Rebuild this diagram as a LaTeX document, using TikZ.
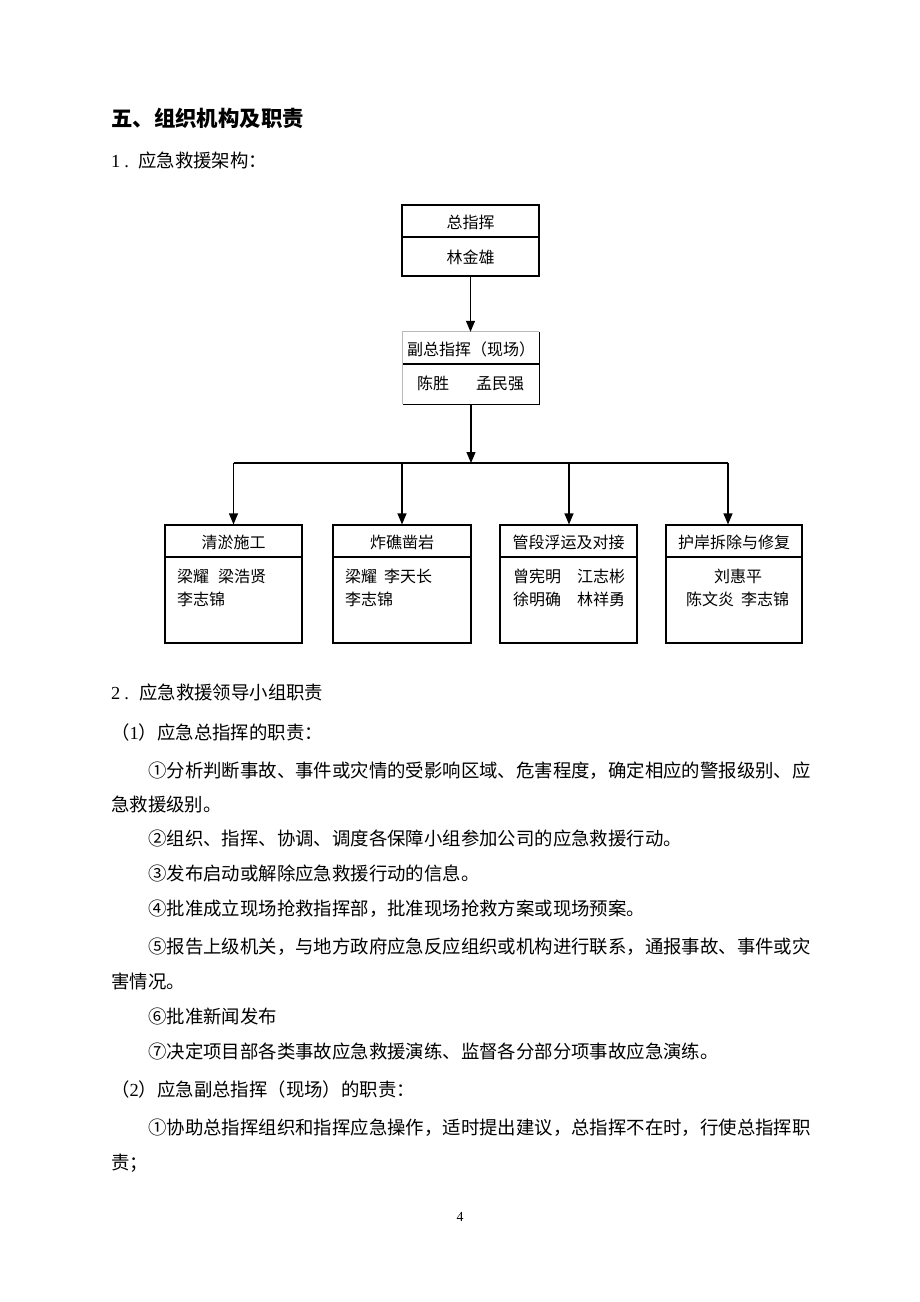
\documentclass[tikz,border=0pt]{standalone}
\usepackage{fontspec}
\setmainfont{Liberation Serif}
\newfontfamily\cjk{Noto Sans CJK SC}
\usetikzlibrary{arrows.meta}
\ExplSyntaxOn
\NewDocumentCommand\spreadline{mm}{\hbox~to~#1{\tl_map_inline:nn{#2}{##1\hfil}\unskip}}
\ExplSyntaxOff
\begin{document}
\begin{tikzpicture}[x=1pt,y=-1pt,
  body/.style={anchor=west, inner sep=0pt, font=\cjk\fontsize{18.4pt}{22pt}\selectfont, text height=16.2pt, text depth=2.2pt},
  num/.style={anchor=west, inner sep=0pt, font=\rmfamily\fontsize{18.4pt}{22pt}\selectfont, text height=16.2pt, text depth=2.2pt},
  htitle/.style={anchor=west, inner sep=0pt, font=\cjk\bfseries\fontsize{21.4pt}{25pt}\selectfont, text height=18.8pt, text depth=2.6pt},
  boxtxt/.style={inner sep=0pt, font=\cjk\fontsize{16pt}{19pt}\selectfont, text height=14.1pt, text depth=1.9pt},
  namew/.style={boxtxt, anchor=west},
  box/.style={draw, line width=1.2pt, inner sep=0pt},
  ln/.style={line width=1.2pt},
  arr/.style={line width=1.2pt, -{Triangle[width=9pt,length=11pt]}}
]
\useasboundingbox (0,0) rectangle (920,1302);
\fill[white] (0,0) rectangle (920,1302);

% headings
\node[htitle] (h5) at (111,118) {五、组织机构及职责};
\node[num] (n1) at (111,160) {1\kern4pt.};
\node[body] (s1) at (138,160) {应急救援架构：};

% box 1
\node[box, minimum width=137pt, minimum height=71pt] (zong) at (470.5,240.5) {};
\draw[ln] (zong.west |- 0,237) -- (zong.east |- 0,237);
\node[boxtxt] (zongT) at (470.5,222.5) {总指挥};
\node[boxtxt] (zongN) at (470.5,257) {林金雄};

% box 2
\node[inner sep=0pt, minimum width=136pt, minimum height=72pt] (fu) at (471,368) {};
\draw[ln, gray!55] (fu.south west) |- (fu.north east);
\draw[ln] (fu.north east) |- (fu.south west);
\draw[ln] (fu.west |- 0,364) -- (fu.east |- 0,364);
\node[boxtxt] (fuT) at (471,349) {副总指挥（现场）};
\node[namew] (fuN1) at (417,383) {陈胜};
\node[namew] (fuN2) at (476,383) {孟民强};

\draw[arr] (zong.south) -- (zong.south |- fu.north);

% bottom boxes
\node[box, minimum width=137pt, minimum height=118pt] (A) at (233.5,584) {};
\node[box, minimum width=138pt, minimum height=118pt] (B) at (402,584) {};
\node[box, minimum width=137pt, minimum height=118pt] (C) at (568.5,584) {};
\node[box, minimum width=136pt, minimum height=118pt] (D) at (734,584) {};
\foreach \b in {A,B,C,D}{\draw[ln] (\b.west |- 0,557) -- (\b.east |- 0,557);}

\node[boxtxt] (AT) at (233.5,542) {清淤施工};
\node[boxtxt] (BT) at (402,542) {炸礁凿岩};
\node[boxtxt] (CT) at (568.5,542) {管段浮运及对接};
\node[boxtxt] (DT) at (734,542) {护岸拆除与修复};

\node[namew] (A1) at (177,576) {梁耀};
\node[namew] (A2) at (218,576) {梁浩贤};
\node[namew] (A3) at (177,599) {李志锦};
\node[namew] (B1) at (345,576) {梁耀};
\node[namew] (B2) at (384,576) {李天长};
\node[namew] (B3) at (345,599) {李志锦};
\node[namew] (C1) at (513,576) {曾宪明};
\node[namew] (C2) at (577,576) {江志彬};
\node[namew] (C3) at (513,599) {徐明确};
\node[namew] (C4) at (577,599) {林祥勇};
\node[boxtxt] (D1) at (738,576) {刘惠平};
\node[namew] (D2) at (686,599) {陈文炎};
\node[namew] (D3) at (741,599) {李志锦};

% connectors
\coordinate (jn) at (471,463);
\coordinate (bA) at (233.5,463);
\coordinate (bB) at (402,463);
\coordinate (bC) at (569,463);
\coordinate (bD) at (728,463);
\draw[arr] (fu.south) -- (jn);
\draw[ln] (bA) -- (bD);
\draw[arr] (bA) -- (bA |- A.north);
\draw[arr] (bB) -- (bB |- B.north);
\draw[arr] (bC) -- (bC |- C.north);
\draw[arr] (bD) -- (bD |- D.north);

% body text
\node[num] (n2) at (111,692) {2\kern4pt.};
\node[body] (s2) at (139,692) {应急救援领导小组职责};
\node[body] (p1) at (111,732) {（{\rmfamily 1}）应急总指挥的职责：};
\node[body] (l1) at (148,770) {\spreadline{662pt}{①分析判断事故、事件或灾情的受影响区域、危害程度，确定相应的警报级别、应}};
\node[body] (l1b) at (111,804) {急救援级别。};
\node[body] (l2) at (148,838) {②组织、指挥、协调、调度各保障小组参加公司的应急救援行动。};
\node[body] (l3) at (148,873) {③发布启动或解除应急救援行动的信息。};
\node[body] (l4) at (148,908) {④批准成立现场抢救指挥部，批准现场抢救方案或现场预案。};
\node[body] (l5) at (148,946) {\spreadline{662pt}{⑤报告上级机关，与地方政府应急反应组织或机构进行联系，通报事故、事件或灾}};
\node[body] (l5b) at (111,981) {害情况。};
\node[body] (l6) at (148,1016) {⑥批准新闻发布};
\node[body] (l7) at (148,1051) {⑦决定项目部各类事故应急救援演练、监督各分部分项事故应急演练。};
\node[body] (p2) at (111,1089) {（{\rmfamily 2}）应急副总指挥（现场）的职责：};
\node[body] (m1) at (148,1127) {\spreadline{662pt}{①协助总指挥组织和指挥应急操作，适时提出建议，总指挥不在时，行使总指挥职}};
\node[body] (m1b) at (111,1162) {责；};
\node[inner sep=0pt, font=\rmfamily\fontsize{13.8pt}{16pt}\selectfont] (pg) at (460,1217) {4};
\end{tikzpicture}
\end{document}
